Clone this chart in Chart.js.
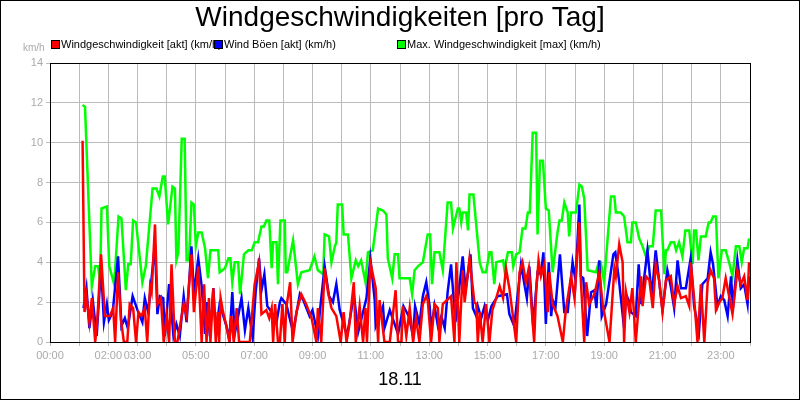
<!DOCTYPE html>
<html><head><meta charset="utf-8">
<script src="https://cdn.jsdelivr.net/npm/chart.js@4/dist/chart.umd.min.js"></script>
<style>html,body{margin:0;padding:0;background:#fff}#w{width:800px;height:400px}</style>
</head><body><div id="w"><canvas id="c"></canvas></div>
<script>
const title = "Windgeschwindigkeiten [pro Tag]";
const dateLabel = "18.11";
const unit = "km/h";
const seriesNames = ["Windgeschwindigkeit [akt] (km/h)", "Wind Böen [akt] (km/h)", "Max. Windgeschwindigkeit [max] (km/h)"];
const tickHours = [0,2,3,5,7,9,11,13,15,17,19,21,23];
// time in minutes of the day 18.11
const redMin = [67,71,75,81,86,93,97,105,113,123,130,134,140,146,152,159,164,171,177,182,188,195,200,206,209,216,221,228,234,240,245,250,257,262,275,281,291,296,305,312,317,322,327,330,336,341,345,348,351,356,363,369,373,378,384,389,411,421,430,435,445,451,456,459,463,469,473,478,483,486,494,499,507,517,527,538,548,551,558,565,572,579,589,598,604,610,616,625,629,637,644,649,652,659,670,675,678,688,699,711,716,723,726,733,740,747,753,760,767,774,777,784,791,798,801,808,825,832,836,842,849,853,863,873,877,880,884,890,897,904,910,918,925,932,938,945,959,966,972,979,985,992,996,1000,1005,1010,1017,1024,1027,1034,1044,1055,1061,1072,1079,1089,1092,1099,1103,1109,1120,1130,1137,1151,1161,1164,1171,1178,1181,1185,1192,1198,1205,1216,1219,1226,1233,1240,1246,1253,1260,1267,1277,1284,1291,1298,1308,1315,1318,1325,1332,1339,1346,1353,1359,1366,1370,1377,1383,1390,1404,1414,1421,1428,1435,1438];
const redVal = [10.1,1.5,2.3,1.0,2.2,0,1.0,4.4,1.3,1.3,1.7,0,3.5,1.1,0,0,1.9,1.7,0,1.5,1.3,1.7,0,2.8,2.5,5.9,1.9,2.2,0,1.3,0,3.9,0,0,1.9,1.3,4.4,1.5,3.8,0,2.9,0,2.2,0,2.7,0,1.5,0,2.2,1.5,0.8,0,1.3,0,1.7,0,0,2.9,4.0,1.4,1.6,1.2,1.7,0,1.9,0,0,1.9,0,1.7,3.0,0,1.5,2.4,1.9,1.2,0,1.7,0,3.7,2.5,1.7,1.3,0,1.5,0,0.9,3.0,0,1.8,0,1.7,0,4.0,2.7,0,2.1,0,0,2.6,0,0,1.8,0.3,1.7,0,1.2,0,1.9,2.3,2.1,0,1.9,1.7,0,1.9,2.3,0,4.0,0,3.6,2.0,4.2,2.0,1.9,0,1.5,0,1.9,0,1.6,2.2,2.8,2.2,3.7,2.7,0,3.5,4.0,3.0,3.7,1.3,0,2.5,4.1,3.3,3.9,1.5,3.5,1.9,1.3,0,1.6,3.3,2.2,6.0,3.1,0,3.0,1.9,2.4,3.5,1.9,0,3.7,3.3,4.9,4.0,0,2.5,1.5,2.7,0,3.3,1.8,3.3,3.1,1.7,3.9,3.1,1.5,3.1,3.3,1.9,2.8,2.2,2.3,1.8,4.0,2.2,0,2.9,0,3.0,3.6,3.2,1.6,2.0,2.2,3.2,1.4,3.6,2.9,3.3,2.1,4.0];
const blueMin = [69,75,81,88,96,105,111,117,121,129,140,147,154,160,170,180,190,195,202,216,221,226,233,236,245,254,260,267,275,281,291,296,305,312,319,323,329,336,341,349,363,369,375,380,394,401,408,417,423,430,435,441,447,456,466,473,476,486,500,514,521,534,540,551,555,565,574,582,589,596,611,620,625,634,651,659,668,670,685,688,699,716,727,738,747,751,760,767,774,781,784,791,798,805,812,818,825,834,849,855,865,870,877,880,887,894,901,908,921,940,945,955,969,976,981,986,994,1003,1010,1015,1020,1026,1031,1034,1040,1049,1058,1065,1075,1081,1089,1092,1097,1105,1113,1120,1124,1130,1135,1144,1159,1163,1170,1181,1185,1192,1195,1205,1211,1216,1229,1238,1246,1253,1260,1270,1277,1284,1291,1298,1308,1318,1325,1335,1342,1353,1359,1364,1373,1380,1387,1394,1401,1405,1414,1421,1428,1435,1438];
const blueVal = [1.7,2.7,0.7,2.1,0.3,3.8,1.0,1.9,1.1,1.5,4.3,0.8,1.2,0.7,2.3,1.6,1.0,2.2,1.5,4.9,1.4,2.3,2.2,0.3,2.9,0.3,0.9,0.3,2.3,1.0,4.8,2.4,4.2,2.8,0.4,2.0,0.3,2.7,0.5,1.9,0.8,0.1,2.5,0.4,2.2,0.6,1.7,0.2,2.5,4.2,2.6,3.4,1.8,1.5,1.0,2.0,2.2,1.9,0.5,2.4,2.1,1.3,1.6,0.3,1.5,3.8,2.3,2.0,2.9,1.6,0.3,1.6,2.4,0.5,2.2,4.2,2.1,0.8,1.8,0.7,1.6,0.4,1.8,1.3,0.3,1.8,0.9,2.3,3.0,1.8,0.6,1.8,0.8,1.3,0.7,2.5,3.9,1.0,4.3,2.6,4.4,1.7,1.3,1.8,1.2,1.8,1.1,1.8,2.3,2.4,1.4,0.8,3.9,2.9,2.2,3.8,0.8,3.5,3.4,4.5,0.9,4.0,1.3,2.1,1.8,4.4,1.5,1.5,4.0,3.1,6.9,3.3,3.2,0.3,2.5,2.6,1.7,4.1,1.3,1.9,4.4,4.5,3.2,0.7,2.4,2.0,1.5,1.3,3.9,1.9,4.6,2.3,4.6,3.1,1.6,3.6,2.8,1.7,4.1,2.7,2.7,4.2,1.8,0.5,2.9,3.2,4.5,3.9,1.8,2.3,2.1,1.3,3.3,1.7,4.1,2.7,2.9,1.9,3.3];
const greenMin = [67,72,86,93,99,103,106,117,122,132,141,147,156,161,166,171,177,190,197,211,219,225,232,236,243,252,257,260,264,271,277,281,286,291,296,300,305,312,319,325,330,346,349,360,367,371,375,380,387,391,399,408,415,421,428,435,440,445,451,456,459,466,469,474,483,485,488,500,510,517,534,544,551,562,565,574,579,586,589,592,601,604,613,620,629,634,640,649,654,664,675,685,692,695,704,709,716,719,740,745,750,757,767,777,782,786,791,801,808,818,825,829,839,842,846,849,856,860,863,871,884,890,897,904,908,914,918,932,935,942,945,950,953,959,966,972,978,983,987,993,1000,1003,1008,1014,1020,1026,1034,1044,1048,1053,1058,1065,1068,1072,1082,1089,1094,1099,1106,1123,1129,1133,1140,1154,1161,1164,1174,1181,1188,1195,1198,1205,1212,1219,1226,1233,1240,1246,1257,1264,1267,1270,1277,1284,1288,1294,1301,1307,1315,1322,1325,1329,1334,1339,1349,1355,1359,1364,1370,1375,1382,1390,1397,1404,1411,1418,1423,1428,1435,1438];
const greenVal = [11.9,11.8,2.8,3.8,3.8,3.0,6.7,6.8,3.8,2.9,6.3,6.2,2.6,3.9,3.9,6.1,6.0,3.0,3.8,7.7,7.7,7.3,8.3,8.3,5.9,7.8,7.7,4.1,4.5,10.2,10.2,4.1,4.1,7.0,6.9,4.8,5.5,5.5,4.7,3.2,4.6,4.6,3.5,3.7,4.2,4.2,3.0,4.0,4.0,2.4,4.4,4.6,4.6,5.0,5.0,5.8,5.8,6.1,6.1,3.7,5.0,5.0,2.9,6.1,6.1,3.5,3.5,5.1,2.9,3.5,3.6,4.3,3.6,3.4,5.4,5.3,4.0,4.8,5.0,6.9,6.9,5.4,5.4,3.2,4.1,3.8,4.1,3.0,4.5,4.6,6.7,6.6,6.4,4.2,3.2,4.4,4.4,3.2,3.2,2.4,3.6,3.8,4.0,5.4,5.4,2.9,4.5,4.5,3.6,7.0,7.0,5.7,6.7,6.7,6.0,6.5,6.5,5.6,7.4,7.4,4.0,3.5,3.5,4.5,4.5,2.9,4.0,4.1,3.6,4.5,4.5,4.5,3.8,4.4,4.5,5.7,5.7,6.5,6.5,10.5,10.5,5.4,9.1,9.1,6.7,6.6,3.5,5.5,6.1,6.1,7.0,6.5,5.3,6.5,6.5,7.9,7.8,7.2,3.6,3.5,4.0,4.0,3.0,7.3,7.3,6.5,6.5,6.3,5.0,5.0,6.0,6.0,5.2,4.8,4.3,4.8,4.8,6.6,6.6,3.4,4.6,4.6,5.0,5.0,4.6,5.0,4.3,5.6,5.6,3.9,5.6,5.6,4.1,5.3,5.3,6.0,6.0,6.3,6.3,3.2,4.6,4.6,4.0,3.3,4.8,4.8,4.0,4.7,4.7,5.2];
const colors = ["#ff0000", "#0000ff", "#00ff00"];

const pts = (m, v) => m.map((t, i) => ({x: t, y: v[i]}));
const FONT = "'Liberation Sans', Arial, sans-serif";

const deco = {
  id: 'deco',
  afterDraw(ch) {
    const c = ch.ctx;
    c.save();
    c.fillStyle = '#000';
    c.textAlign = 'center'; c.textBaseline = 'middle';
    c.font = "28px " + FONT;
    c.fillText(title, 400, 18);
    c.font = "18px " + FONT;
    c.fillText(dateLabel, 400, 380);
    c.font = "10px " + FONT;
    c.fillStyle = '#aaa'; c.textAlign = 'left';
    c.fillText(unit, 23, 48);
    const lx = [51, 214, 397];
    c.font = "11px " + FONT;
    seriesNames.forEach((n, i) => {
      c.fillStyle = colors[i];
      c.fillRect(lx[i] + 0.5, 40.5, 8, 8);
      c.strokeStyle = '#000'; c.lineWidth = 1;
      c.strokeRect(lx[i] + 0.5, 40.5, 8, 8);
      c.fillStyle = '#000';
      c.fillText(n, lx[i] + 10, 45);
    });
    const a = ch.chartArea;
    c.strokeStyle = '#000'; c.lineWidth = 1;
    c.strokeRect(Math.round(a.left) + 0.5, Math.round(a.top) + 0.5, Math.round(a.right - a.left), Math.round(a.bottom - a.top));
    c.strokeRect(0.5, 0.5, 799, 399);
    c.restore();
  }
};

new Chart(document.getElementById('c'), {
  type: 'line',
  data: {
    datasets: seriesNames.map((n, i) => ({
      label: n,
      data: pts([redMin, blueMin, greenMin][i], [redVal, blueVal, greenVal][i]),
      borderColor: colors[i], borderWidth: 2.5, pointRadius: 0, tension: 0, fill: false
    }))
  },
  options: {
    responsive: true, maintainAspectRatio: false, animation: false,
    layout: {padding: {left: 0, top: 63, right: 50, bottom: 38}},
    plugins: {legend: {display: false}, title: {display: false}, tooltip: {enabled: false}},
    scales: {
      x: {
        type: 'linear', min: 0, max: 1440,
        afterFit: s => { s.height = 20; },
        grid: {color: '#bbb', drawTicks: true, tickLength: 4},
        border: {display: false},
        ticks: {stepSize: 60, autoSkip: false, maxRotation: 0, color: '#aaa', font: {size: 11, family: FONT},
          callback: v => tickHours.includes(v / 60) ? String(v / 60).padStart(2, '0') + ':00' : ''}
      },
      y: {
        min: 0, max: 14,
        afterFit: s => { s.width = 50; },
        grid: {color: '#bbb', tickLength: 4},
        border: {display: false},
        ticks: {stepSize: 2, color: '#aaa', font: {size: 11, family: FONT}}
      }
    }
  },
  plugins: [deco]
});
</script></body></html>
